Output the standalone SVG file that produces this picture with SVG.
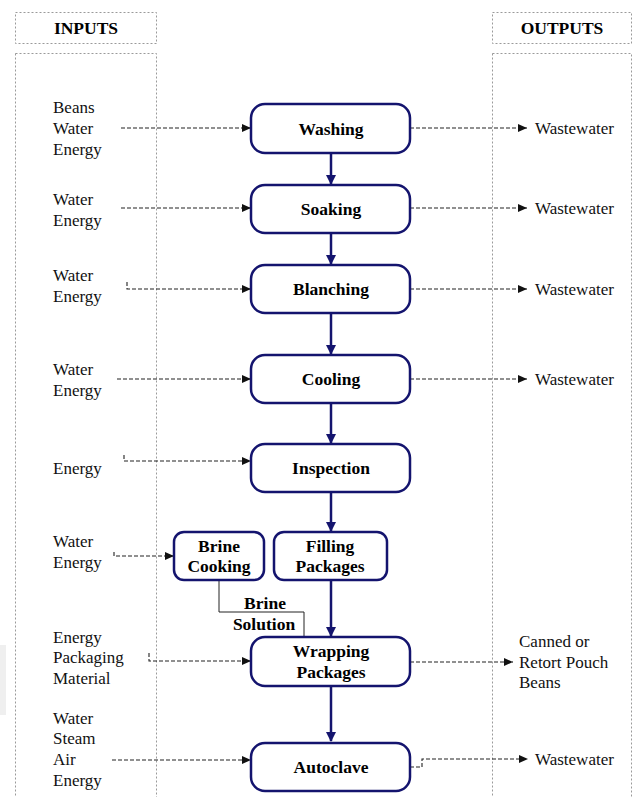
<svg xmlns="http://www.w3.org/2000/svg" width="633" height="797" viewBox="0 0 633 797">
<style>
.col{fill:none;stroke:#9a9a9a;stroke-width:1;stroke-dasharray:2,2}
.box{fill:#fff;stroke:#14146e;stroke-width:2.5}
.lbl{font-family:"Liberation Serif","Times New Roman",serif;font-size:17.5px;font-weight:bold;fill:#000;text-anchor:middle;dominant-baseline:central}
.txt{font-family:"Liberation Serif","Times New Roman",serif;font-size:17px;fill:#111;dominant-baseline:central}
.flow{fill:none;stroke:#14146e;stroke-width:2.5}
.io{fill:none;stroke:#222;stroke-width:1.1;stroke-dasharray:4,2}
.thin{fill:none;stroke:#222;stroke-width:1}
</style>
<defs>
<marker id="nav" markerWidth="10" markerHeight="10" refX="9" refY="5" orient="auto" markerUnits="userSpaceOnUse">
<path d="M0,0 L10,5 L0,10 Z" fill="#14146e"/>
</marker>
<marker id="blk" markerWidth="9" markerHeight="8" refX="9" refY="4" orient="auto" markerUnits="userSpaceOnUse">
<path d="M0,0 L9,4 L0,8 Z" fill="#111"/>
</marker>
</defs>
<rect x="0" y="0" width="633" height="797" fill="#fff"/>
<rect x="0" y="645" width="6" height="70" fill="#efefef"/>
<g id="inputs-header"><rect class="col" x="15.5" y="12.5" width="141" height="31"/><text class="lbl" x="86" y="28">INPUTS</text></g>
<g id="outputs-header"><rect class="col" x="492.5" y="12.5" width="139" height="31"/><text class="lbl" x="562" y="28">OUTPUTS</text></g>
<g id="inputs-column"><rect class="col" x="15.5" y="53.5" width="141" height="760"/></g>
<g id="outputs-column"><rect class="col" x="492.5" y="53.5" width="139" height="760"/></g>

<g id="connectors">
<path class="flow" d="M331,153 V184" marker-end="url(#nav)"/>
<path class="flow" d="M331,233 V264" marker-end="url(#nav)"/>
<path class="flow" d="M331,313 V354" marker-end="url(#nav)"/>
<path class="flow" d="M331,403 V443" marker-end="url(#nav)"/>
<path class="flow" d="M331,492 V531" marker-end="url(#nav)"/>
<path class="flow" d="M331,580 V636" marker-end="url(#nav)"/>
<path class="flow" d="M331,686 V741" marker-end="url(#nav)"/>
<path class="thin" d="M219,580 V612 H304 V637"/>
<path class="io" d="M121,128 H251" marker-end="url(#blk)"/>
<path class="io" d="M121,208 H251" marker-end="url(#blk)"/>
<path class="io" d="M127,282 V289 H251" marker-end="url(#blk)"/>
<path class="io" d="M117,379 H251" marker-end="url(#blk)"/>
<path class="io" d="M124,455 V461 H251" marker-end="url(#blk)"/>
<path class="io" d="M114,552 V556 H174" marker-end="url(#blk)"/>
<path class="io" d="M149,653 V661 H251" marker-end="url(#blk)"/>
<path class="io" d="M112,760 H251" marker-end="url(#blk)"/>
<path class="io" d="M410,128 H527" marker-end="url(#blk)"/>
<path class="io" d="M410,208 H527" marker-end="url(#blk)"/>
<path class="io" d="M410,289 H527" marker-end="url(#blk)"/>
<path class="io" d="M410,379 H527" marker-end="url(#blk)"/>
<path class="io" d="M410,662 H513" marker-end="url(#blk)"/>
<path class="io" d="M410,767 H422 V759 H528" marker-end="url(#blk)"/>
</g>

<g id="washing"><rect class="box" x="251" y="104" width="159" height="49" rx="14"/><text class="lbl" x="331" y="128.5">Washing</text></g>
<g id="soaking"><rect class="box" x="251" y="185" width="159" height="48" rx="14"/><text class="lbl" x="331" y="209">Soaking</text></g>
<g id="blanching"><rect class="box" x="251" y="265" width="159" height="48" rx="14"/><text class="lbl" x="331" y="289">Blanching</text></g>
<g id="cooling"><rect class="box" x="251" y="355" width="159" height="48" rx="14"/><text class="lbl" x="331" y="379">Cooling</text></g>
<g id="inspection"><rect class="box" x="251" y="444" width="159" height="48" rx="14"/><text class="lbl" x="331" y="468">Inspection</text></g>
<g id="brine-cooking"><rect class="box" x="174" y="532" width="90" height="48" rx="10"/><text class="lbl" x="219" y="546">Brine</text><text class="lbl" x="219" y="566">Cooking</text></g>
<g id="filling-packages"><rect class="box" x="274" y="532" width="113" height="48" rx="10"/><text class="lbl" x="330" y="546">Filling</text><text class="lbl" x="330" y="566">Packages</text></g>
<g id="brine-solution"><text class="lbl" x="265" y="603">Brine</text><text class="lbl" x="264" y="624">Solution</text></g>
<g id="wrapping-packages"><rect class="box" x="251" y="637" width="159" height="49" rx="14"/><text class="lbl" x="331" y="651">Wrapping</text><text class="lbl" x="331" y="672">Packages</text></g>
<g id="autoclave"><rect class="box" x="251" y="743" width="159" height="48" rx="14"/><text class="lbl" x="331" y="767">Autoclave</text></g>

<g id="input-labels">
<text class="txt" x="53" y="107">Beans</text><text class="txt" x="53" y="128">Water</text><text class="txt" x="53" y="149">Energy</text>
<text class="txt" x="53" y="199">Water</text><text class="txt" x="53" y="220">Energy</text>
<text class="txt" x="53" y="275">Water</text><text class="txt" x="53" y="296">Energy</text>
<text class="txt" x="53" y="369">Water</text><text class="txt" x="53" y="390">Energy</text>
<text class="txt" x="53" y="468">Energy</text>
<text class="txt" x="53" y="541">Water</text><text class="txt" x="53" y="562">Energy</text>
<text class="txt" x="53" y="637">Energy</text><text class="txt" x="53" y="657">Packaging</text><text class="txt" x="53" y="678">Material</text>
<text class="txt" x="53" y="718">Water</text><text class="txt" x="53" y="738">Steam</text><text class="txt" x="53" y="759">Air</text><text class="txt" x="53" y="780">Energy</text>
</g>
<g id="output-labels">
<text class="txt" x="535" y="128">Wastewater</text>
<text class="txt" x="535" y="208">Wastewater</text>
<text class="txt" x="535" y="289">Wastewater</text>
<text class="txt" x="535" y="379">Wastewater</text>
<text class="txt" x="519" y="641">Canned or</text><text class="txt" x="519" y="662">Retort Pouch</text><text class="txt" x="519" y="682">Beans</text>
<text class="txt" x="535" y="759">Wastewater</text>
</g>
</svg>
